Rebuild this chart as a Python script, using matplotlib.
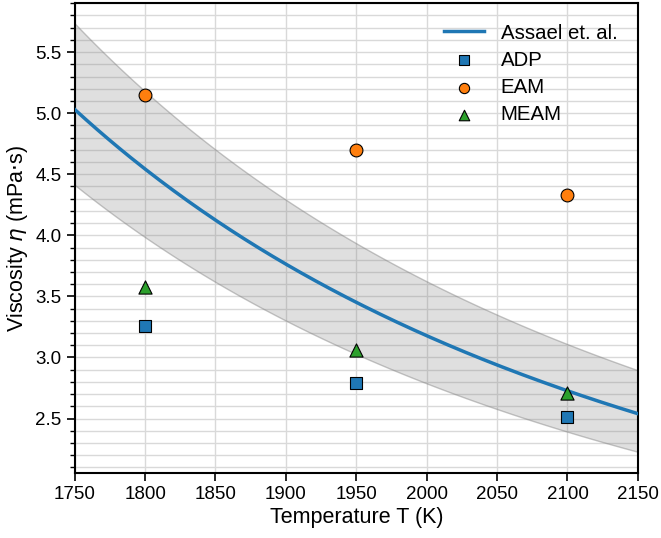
import numpy as np
import matplotlib
matplotlib.use("Agg")
import matplotlib.pyplot as plt
from matplotlib.ticker import MultipleLocator

plt.rcParams['font.family'] = ['Liberation Sans', 'DejaVu Sans']
plt.rcParams['font.size'] = 13.5
plt.rcParams['mathtext.fontset'] = 'dejavusans'

# Assael et al. correlation: log10(eta) = -a1 + a2 / T, band +/- 14 %
a1 = 0.8938
a2 = 2792.0
band = 1.14

temps = [1800, 1950, 2100]
adp = [3.26, 2.79, 2.51]
eam = [5.15, 4.70, 4.33]
meam = [3.58, 3.06, 2.71]

T = np.linspace(1750, 2150, 200)
eta = 10 ** (-a1 + a2 / T)

fig, ax = plt.subplots(figsize=(6.61, 5.38), dpi=100)
fig.subplots_adjust(left=0.113, right=0.965, top=0.994, bottom=0.121)

ax.fill_between(T, eta / band, eta * band, facecolor=(0.5, 0.5, 0.5, 0.25),
                edgecolor=(0.5, 0.5, 0.5, 0.45), linewidth=1.0, zorder=2)
ax.plot(T, eta, color='#1f77b4', linewidth=2.5, label='Assael et. al.', zorder=3)
ax.scatter(temps, adp, marker='s', s=80, color='#1f77b4', edgecolor='black',
           linewidth=0.8, label='ADP', zorder=4)
ax.scatter(temps, eam, marker='o', s=85, color='#ff7f0e', edgecolor='black',
           linewidth=0.8, label='EAM', zorder=4)
ax.scatter(temps, meam, marker='^', s=90, color='#2ca02c', edgecolor='black',
           linewidth=0.8, label='MEAM', zorder=4)

ax.set_xlim(1750, 2150)
ax.set_ylim(2.055, 5.9)
ax.set_xticks(np.arange(1750, 2151, 50))
ax.yaxis.set_major_locator(MultipleLocator(0.5))
ax.yaxis.set_minor_locator(MultipleLocator(0.1))
ax.grid(True, which='major', color='#d9d9d9', linewidth=1.0, zorder=0)
ax.grid(True, which='minor', axis='y', color='#d9d9d9', linewidth=1.0, zorder=0)
ax.set_axisbelow(True)

for s in ax.spines.values():
    s.set_linewidth(1.5)
ax.tick_params(which='major', length=6, width=1.2, labelsize=13.5)
ax.tick_params(which='minor', length=3.5, width=1.0)

ax.set_xlabel('Temperature T (K)', fontsize=15.5, labelpad=3)
ax.set_ylabel(r'Viscosity $\eta$ (mPa$\cdot$s)', fontsize=15.5, labelpad=4)
ax.legend(loc='upper right', frameon=False, fontsize=14.7, labelspacing=0.4,
          markerscale=0.8, handletextpad=0.8, borderaxespad=0.6)

fig.savefig('out.png', dpi=100)
